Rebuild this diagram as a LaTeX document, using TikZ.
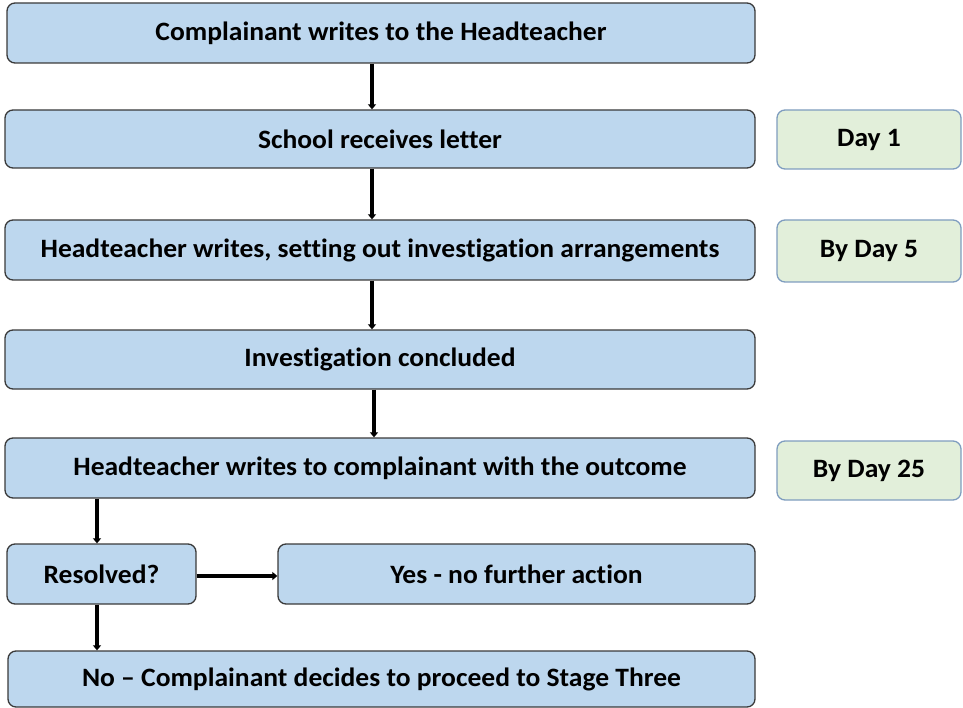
\documentclass[tikz,border=0pt]{standalone}
\usepackage{fontspec}
\setmainfont{Carlito}[FakeStretch=1.04,Ligatures=NoCommon]
\usetikzlibrary{arrows.meta}
\definecolor{boxblue}{HTML}{BDD7EE}
\definecolor{boxgreen}{HTML}{E2EFDA}
\definecolor{greenedge}{HTML}{7F9DBF}
\definecolor{blueedge}{HTML}{3A3A3A}
\begin{document}
\begin{tikzpicture}[x=1pt,y=-1pt,
  bluebox/.style={draw=blueedge, fill=boxblue, line width=1.3pt, rounded corners=8pt,
    font=\bfseries\fontsize{26.5}{30}\selectfont, inner sep=0pt},
  greenbox/.style={draw=greenedge, fill=boxgreen, line width=1.3pt, rounded corners=8pt,
    font=\bfseries\fontsize{26.5}{30}\selectfont, inner sep=0pt, minimum width=184pt},
  arr/.style={line width=3.4pt, -{Triangle[length=5pt,width=8pt]}}]
\useasboundingbox (0,0) rectangle (963,708);

\node[bluebox, minimum width=748pt, minimum height=60pt] (b1) at (381,33) {Complainant writes to the Headteacher};
\node[bluebox, minimum width=750pt, minimum height=58pt] (b2) at (380,139) {School receives letter};
\node[bluebox, minimum width=750pt, minimum height=60pt] (b3) at (380,250) {Headteacher writes, setting out investigation arrangements};
\node[bluebox, minimum width=750pt, minimum height=59pt] (b4) at (380,359.5) {Investigation concluded};
\node[bluebox, minimum width=750pt, minimum height=60pt] (b5) at (380,468) {Headteacher writes to complainant with the outcome};
\node[bluebox, minimum width=189pt, minimum height=60pt] (res) at (101.5,574) {Resolved?};
\node[bluebox, minimum width=477pt, minimum height=60pt] (yes) at (516.5,574) {Yes - no further action};
\node[bluebox, minimum width=747pt, minimum height=56pt] (no) at (381.5,679) {No -- Complainant decides to proceed to Stage Three};

\node[greenbox, minimum height=59pt] (d1) at (869,139.5) {Day 1};
\node[greenbox, minimum height=62pt] (d5) at (869,251) {By Day 5};
\node[greenbox, minimum height=59pt] (d25) at (869,470.5) {By Day 25};

\draw[arr] ([xshift=-9pt]b1.south) -- ([xshift=-8pt]b2.north);
\draw[arr] ([xshift=-8pt]b2.south) -- ([xshift=-8pt]b3.north);
\draw[arr] ([xshift=-8pt]b3.south) -- ([xshift=-8pt]b4.north);
\draw[arr] ([xshift=-6pt]b4.south) -- ([xshift=-6pt]b5.north);
\draw[arr] (b5.south -| res.south) ++(-4.5pt,0) -- ([xshift=-4.5pt]res.north);
\draw[arr] ([yshift=-2pt]res.east) -- ([yshift=-2pt]yes.west);
\draw[arr] ([xshift=-4.5pt]res.south) -- ([xshift=-4.5pt]no.north -| res.south);
\end{tikzpicture}
\end{document}
